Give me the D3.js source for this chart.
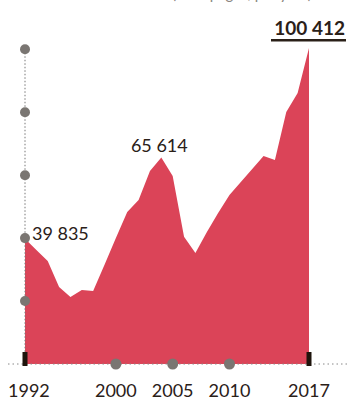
<!DOCTYPE html>
<html>
<head>
<meta charset="utf-8">
<script src="https://cdn.jsdelivr.net/npm/d3@7"></script>
<style>
  body { margin: 0; background: #fff; }
  svg { display: block; font-family: Lato, "Open Sans", sans-serif; }
</style>
</head>
<body>
<div id="chart"></div>
<script>
const years = d3.range(1992, 2018);
const pages = [39835, 36200, 32700, 24500, 21300, 23500, 23200, 31500, 40000, 48300,
  52100, 61300, 65614, 59700, 40400, 35300, 41900, 48000, 53700, 57800,
  62000, 66100, 64800, 80100, 86100, 100412];
const yTicks = [20000, 40000, 60000, 80000, 100000];
const xTickYears = [1992, 2000, 2005, 2010, 2017];
const labelled = [1992, 2004, 2017];

const width = 349, height = 403;
const data = years.map((y, i) => ({ year: y, value: pages[i] }));

const x = d3.scaleLinear().domain([1992, 2017]).range([25, 309]);
const y = d3.scaleLinear().domain([0, 100412]).range([364, 48]);
const fmt = v => d3.format(',')(v).replace(/,/g, ' ');

const svg = d3.select('#chart').append('svg')
  .attr('width', width)
  .attr('height', height);

// subtitle, cut off by the top edge like in the original
svg.append('text')
  .attr('x', 172).attr('y', -1.5)
  .style('font-size', '15px')
  .style('fill', '#8a8580')
  .text('(total pages, per year)');

// area
const area = d3.area()
  .x(d => x(d.year))
  .y0(y(0))
  .y1(d => y(d.value));
svg.append('path')
  .datum(data)
  .attr('d', area)
  .style('fill', '#db4458');

// baseline dotted
svg.append('line')
  .attr('x1', 8).attr('x2', width)
  .attr('y1', y(0)).attr('y2', y(0))
  .style('stroke', '#888')
  .style('stroke-width', 1)
  .style('stroke-dasharray', '1.5,3');

// vertical dotted axis
svg.append('line')
  .attr('x1', x(1992)).attr('x2', x(1992))
  .attr('y1', y(100000)).attr('y2', y(0))
  .style('stroke', '#777')
  .style('stroke-width', 1)
  .style('stroke-dasharray', '1.5,2');

// y dots
svg.selectAll('.ydot')
  .data(yTicks)
  .enter().append('circle')
  .attr('class', 'ydot')
  .attr('cx', x(1992))
  .attr('cy', d => y(d))
  .attr('r', 5)
  .style('fill', '#7a7672');

// x ticks: ends as black bars, inner ones as dots
xTickYears.forEach(d => {
  if (d === 1992 || d === 2017) {
    svg.append('rect')
      .attr('x', x(d) - 2.5).attr('y', y(0) - 12)
      .attr('width', 5).attr('height', 14)
      .style('fill', '#1e140c');
  } else {
    svg.append('circle')
      .attr('cx', x(d)).attr('cy', y(0))
      .attr('r', 5.5)
      .style('fill', '#7a7672');
  }
});

svg.selectAll('.xlabel')
  .data(xTickYears)
  .enter().append('text')
  .attr('class', 'xlabel')
  .attr('x', d => d === 1992 ? 8 : x(d))
  .attr('y', 397)
  .style('text-anchor', d => d === 1992 ? 'start' : 'middle')
  .style('font-size', '18px')
  .style('fill', '#2a2018')
  .text(d => d);

// value labels
const lab = data.filter(d => labelled.includes(d.year));
lab.forEach(d => {
  if (d.year === 1992) {
    svg.append('text')
      .attr('x', 32).attr('y', y(d.value) + 1)
      .style('font-size', '18px').style('fill', '#2a2018')
      .text(fmt(d.value));
  } else if (d.year === 2004) {
    svg.append('text')
      .attr('x', x(d.year) - 2).attr('y', y(d.value) - 6)
      .style('text-anchor', 'middle')
      .style('font-size', '18px').style('fill', '#2a2018')
      .text(fmt(d.value));
  } else {
    svg.append('text')
      .attr('x', 345).attr('y', 35)
      .style('text-anchor', 'end')
      .style('font-size', '19px').style('font-weight', 'bold')
      .style('fill', '#2a2018')
      .text(fmt(d.value));
    svg.append('rect')
      .attr('x', 271).attr('y', 39)
      .attr('width', 75).attr('height', 2.5)
      .style('fill', '#2a2018');
  }
});
</script>
</body>
</html>
